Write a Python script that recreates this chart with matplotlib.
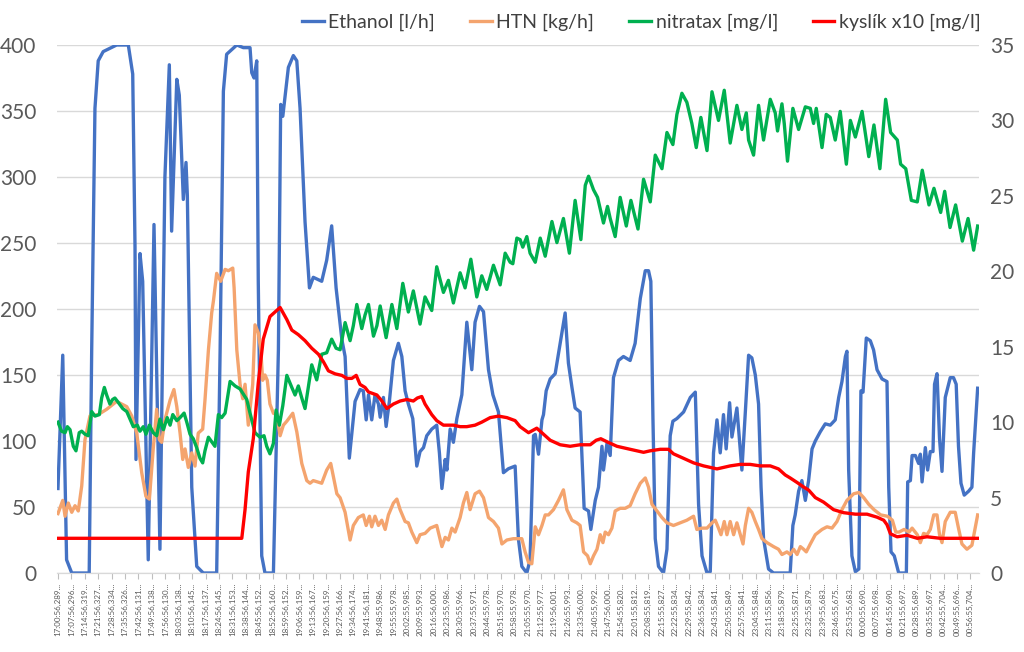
import matplotlib
matplotlib.use("Agg")
import matplotlib.pyplot as plt

plt.rcParams['font.family'] = ['Lato', 'DejaVu Sans']

# x = minuty od 17:00:56, popisky kazdych 7 minut
tick_labels = [
    "17:00:56,289", "17:07:56,296", "17:14:56,319", "17:21:56,327", "17:28:56,334",
    "17:35:56,326", "17:42:56,131", "17:49:56,138", "17:56:56,130", "18:03:56,138",
    "18:10:56,145", "18:17:56,137", "18:24:56,145", "18:31:56,153", "18:38:56,144",
    "18:45:56,152", "18:52:56,160", "18:59:56,152", "19:06:56,159", "19:13:56,167",
    "19:20:56,159", "19:27:56,166", "19:34:56,174", "19:41:56,181", "19:48:55,986",
    "19:55:55,978", "20:02:55,985", "20:09:55,993", "20:16:56,000", "20:23:55,986",
    "20:30:55,966", "20:37:55,971", "20:44:55,978", "20:51:55,970", "20:58:55,978",
    "21:05:55,970", "21:12:55,977", "21:19:56,001", "21:26:55,993", "21:33:56,000",
    "21:40:55,992", "21:47:56,000", "21:54:55,820", "22:01:55,812", "22:08:55,819",
    "22:15:55,827", "22:22:55,834", "22:29:55,842", "22:36:55,834", "22:43:55,841",
    "22:50:55,849", "22:57:55,841", "23:04:55,848", "23:11:55,856", "23:18:55,879",
    "23:25:55,871", "23:32:55,879", "23:39:55,683", "23:46:55,675", "23:53:55,683",
    "00:00:55,690", "00:07:55,698", "00:14:55,690", "00:21:55,697", "00:28:55,689",
    "00:35:55,697", "00:42:55,704", "00:49:55,696", "00:56:55,704",
]

# Ethanol [l/h]
eth_t = [0, 2.5, 4.5, 7.2, 16.3, 17.6, 19.3, 21.0, 23.6, 30.6, 36.7, 39.0, 40.2, 40.7, 42.8, 44.2,
         47.1, 50.1, 53.2, 55.8, 58.1, 59.3, 62.0, 63.3, 65.4, 66.8, 67.5, 69.8, 72.4, 75.8, 82.8,
         84.6, 86.3, 88.0, 93.3, 96.7, 100.2, 101.1, 102.3, 103.7, 104.5, 106.3, 108.0, 112.4,
         115.0, 116.2, 117.3, 120.2, 122.8, 124.6, 126.3, 128.9, 131.2, 133.2, 137.6, 140.2, 142.8,
         145.1, 148.1, 149.8, 152.0, 155.0, 157.6, 159.3, 160.8, 162.0, 163.7, 165.4, 167.2, 168.1,
         169.8, 171.2, 172.9, 175.0, 177.6, 179.4, 181.1, 182.8, 185.1, 187.2, 188.9, 190.7, 192.4,
         195.0, 197.6, 199.0, 200.3, 202.0, 202.9, 204.6, 206.3, 208.1, 210.7, 213.3, 215.9, 217.6,
         219.9, 222.0, 224.6, 226.9, 229.8, 232.4, 235.0, 238.5, 240.2, 242.0, 244.6, 246.3, 248.1,
         249.0, 250.7, 252.5, 253.3, 254.7, 256.8, 259.4, 262.0, 264.6, 266.3, 268.1, 269.8, 272.4,
         274.5, 276.8, 278.0, 280.3, 282.0, 283.8, 284.6, 286.4, 288.1, 289.8, 292.4, 295.0, 298.5,
         301.1, 303.8, 306.4, 308.1, 309.3, 310.4, 311.6, 313.3, 315.9, 317.7, 319.4, 320.8, 322.9,
         326.4, 329.9, 332.5, 334.2, 336.0, 338.6, 340.3, 342.0, 343.8, 345.5, 347.2, 348.6, 350.4,
         351.6, 354.2, 356.0, 356.8, 358.6, 360.3, 362.0, 363.8, 365.5, 366.8, 368.1, 370.7, 373.3,
         382.0, 383.4, 384.6, 386.4, 388.1, 389.9, 391.6, 393.4, 395.1, 397.7, 400.3, 402.9, 405.5,
         407.3, 409.0, 410.8, 411.6, 412.5, 414.2, 416.0, 417.8, 418.9, 420.0, 421.7, 423.8, 425.5,
         427.3, 429.9, 432.5, 433.4, 434.6, 436.3, 438.6, 442.6, 443.3, 444.7, 445.6, 447.3, 449.0,
         449.9, 450.8, 452.5, 453.7, 455.1, 456.5, 457.3, 458.6, 459.9, 461.2, 462.9, 465.5, 467.2,
         468.6, 469.8, 471.1, 472.8, 475.1, 476.8, 477.7, 479.8]
eth_v = [64, 165, 10, 0, 0, 169, 352, 388, 395, 400, 400, 378, 247, 86, 242, 221,
         10, 264, 18, 300, 385, 259, 374, 362, 283, 311, 286, 65, 5, 0, 0,
         169, 365, 393, 400, 398, 398, 379, 375, 388, 221, 13, 0, 0,
         169, 355, 346, 383, 392, 388, 352, 266, 216, 224, 221, 237, 263,
         216, 177, 164, 87, 130, 139, 138, 116, 135, 116, 135, 128, 118,
         133, 111, 130, 161, 174, 164, 138, 128, 117, 81, 92, 95, 104,
         109, 112, 91, 64, 86, 78, 109, 99, 117, 135, 190, 154, 190,
         202, 198, 154, 135, 122, 76, 79, 81, 26, 5, 0, 10, 104,
         105, 90, 116, 120, 138, 147, 151, 174, 197, 159, 141, 125, 122,
         49, 47, 33, 55, 65, 96, 78, 98, 89, 148, 161, 164, 161,
         174, 208, 229, 229, 221, 117, 26, 5, 0, 18, 104, 115, 117,
         122, 133, 137, 52, 13, 0, 1, 91, 116, 91, 120, 94, 129,
         103, 125, 92, 78, 122, 165, 163, 150, 128, 65, 26, 3, 0,
         0, 36, 44, 62, 70, 55, 70, 94, 100, 107, 113, 112, 116,
         133, 145, 164, 168, 78, 13, 1, 3, 138, 137, 178, 176, 169,
         154, 147, 145, 65, 16, 13, 0, 0, 69, 70, 89, 89, 83,
         90, 69, 95, 78, 92, 92, 143, 151, 102, 77, 133, 148, 148,
         143, 96, 68, 59, 62, 65, 91, 140]

# HTN [kg/h]
htn_t = [0, 2.5, 3.7, 5.4, 7.2, 8.9, 10.6, 12.4, 14.1, 16.7, 21.0, 25.4, 30.6, 35.9, 38.5, 41.1,
         43.7, 45.9, 47.7, 49.7, 51.5, 52.9, 54.1, 55.8, 58.5, 60.5, 62.0, 63.7, 65.1, 66.3, 68.0,
         69.8, 71.5, 73.2, 75.5, 76.7, 78.5, 80.2, 81.1, 82.8, 84.9, 87.2, 88.9, 91.2, 91.9, 93.3,
         95.0, 96.4, 97.6, 99.3, 101.6, 102.8, 104.5, 105.8, 106.8, 108.0, 109.2, 110.6, 112.4,
         114.1, 115.9, 117.6, 119.4, 122.5, 124.6, 127.2, 129.8, 131.5, 133.2, 137.6, 140.2, 142.3,
         143.7, 145.5, 147.2, 149.8, 152.4, 154.1, 156.7, 159.3, 160.8, 162.5, 163.7, 165.4, 167.2,
         168.9, 170.7, 172.4, 175.0, 176.8, 178.5, 181.1, 182.8, 184.6, 187.2, 188.9, 191.5, 194.2,
         197.6, 200.3, 202.0, 203.7, 205.5, 207.2, 209.8, 211.5, 213.3, 215.0, 217.6, 219.9, 222.0,
         224.6, 227.2, 229.8, 231.6, 234.2, 237.6, 240.2, 242.0, 243.7, 245.5, 247.2, 249.0, 250.7,
         252.5, 254.2, 255.9, 258.5, 261.1, 263.7, 265.5, 268.1, 270.7, 272.4, 274.2, 276.3, 277.7,
         279.4, 281.2, 282.9, 284.3, 285.5, 287.2, 289.0, 290.7, 293.3, 295.9, 298.5, 301.1, 303.8,
         306.4, 308.1, 309.9, 312.5, 315.1, 317.7, 321.1, 324.6, 328.1, 331.6, 333.3, 336.0, 338.6,
         341.2, 342.9, 344.6, 345.9, 347.6, 349.0, 350.7, 352.5, 354.2, 356.0, 357.4, 358.6, 360.3,
         362.0, 363.8, 365.5, 367.3, 369.9, 373.3, 375.9, 377.7, 380.3, 382.0, 383.8, 385.6, 387.3,
         389.0, 390.4, 392.5, 395.1, 398.6, 401.2, 403.8, 406.4, 409.0, 411.6, 415.1, 417.8, 420.4,
         423.0, 425.7, 429.2, 432.7, 435.3, 437.1, 438.8, 441.4, 444.0, 445.6, 448.3, 449.9, 451.6,
         453.4, 455.1, 456.9, 458.6, 459.9, 461.2, 462.9, 465.5, 468.1, 469.8, 471.6, 474.2, 476.8,
         478.5, 479.8]
htn_v = [45, 55, 43, 53, 46, 51, 47, 66, 101, 119, 120, 124, 130, 126, 119, 106,
         76, 58, 56, 94, 124, 101, 99, 116, 131, 139, 126, 106, 86, 94, 80,
         91, 81, 106, 109, 131, 169, 197, 206, 227, 221, 230, 229, 231, 216, 169,
         143, 132, 143, 112, 143, 188, 182, 169, 146, 150, 146, 128, 121,
         120, 104, 112, 115, 121, 107, 83, 70, 68, 70, 68, 78, 83,
         73, 60, 57, 46, 25, 36, 42, 44, 36, 43, 35, 43, 36,
         40, 33, 44, 53, 56, 48, 39, 38, 31, 23, 29, 30, 34,
         36, 20, 27, 25, 34, 31, 42, 53, 61, 48, 60, 62, 57,
         42, 39, 34, 22, 25, 26, 26, 26, 16, 8, 7, 35, 29,
         36, 44, 44, 48, 55, 63, 48, 40, 38, 36, 16, 13, 7,
         13, 18, 29, 23, 31, 29, 34, 47, 49, 49, 51, 60, 68,
         72, 65, 52, 47, 42, 38, 36, 38, 40, 43, 33, 34, 34,
         38, 40, 34, 29, 39, 29, 39, 29, 38, 29, 22, 36, 49,
         46, 39, 33, 26, 23, 20, 18, 14, 16, 14, 18, 14, 20,
         18, 16, 22, 29, 33, 35, 34, 39, 48, 55, 60, 61, 57,
         52, 48, 44, 43, 40, 31, 31, 33, 31, 34, 29, 23, 30,
         29, 33, 44, 44, 29, 23, 39, 46, 46, 34, 22, 18, 21,
         34, 44]

# nitratax [mg/l] (prava osa)
nit_t = [0, 1.9, 3.7, 4.9, 6.3, 8.0, 9.4, 11.1, 12.4, 14.1, 15.8, 17.6, 19.3, 21.6, 22.8, 24.2,
         25.4, 27.1, 28.5, 29.7, 31.5, 33.8, 35.9, 37.6, 39.3, 41.4, 42.8, 44.5, 45.9, 47.7, 49.7,
         51.5, 53.2, 55.0, 57.0, 58.5, 59.9, 62.0, 63.7, 65.8, 67.2, 68.9, 70.6, 72.4, 74.1, 75.5,
         76.7, 78.5, 80.2, 81.9, 83.7, 85.4, 87.2, 89.8, 92.4, 95.0, 98.5, 100.2, 102.8, 105.4,
         107.5, 108.9, 110.6, 112.4, 113.8, 115.5, 117.3, 119.4, 122.0, 123.7, 125.4, 127.2, 128.9,
         132.4, 135.0, 137.6, 140.2, 142.8, 145.1, 147.2, 149.8, 152.4, 154.1, 155.9, 158.5, 160.2,
         162.0, 164.6, 166.4, 168.1, 171.2, 174.2, 176.8, 179.9, 182.8, 185.4, 188.9, 191.5, 195.0,
         197.6, 201.1, 203.7, 206.3, 209.8, 212.4, 215.4, 218.5, 221.1, 223.7, 227.2, 230.7, 233.3,
         235.9, 237.3, 239.4, 241.1, 242.5, 244.6, 246.3, 249.0, 251.6, 254.2, 257.7, 260.3, 263.7,
         266.8, 269.8, 272.8, 275.1, 276.8, 279.4, 281.5, 284.6, 286.7, 288.1, 290.7, 293.3, 296.5,
         298.9, 302.6, 305.5, 309.0, 311.6, 315.1, 317.7, 320.8, 322.9, 325.5, 328.1, 330.7, 333.0,
         335.4, 338.6, 341.2, 344.6, 347.6, 350.7, 354.2, 356.8, 359.1, 360.3, 362.9, 365.5, 368.1,
         371.6, 374.2, 375.4, 377.7, 378.9, 380.6, 383.4, 386.4, 389.9, 392.5, 394.2, 395.6, 398.6,
         400.8, 402.9, 405.5, 408.1, 411.3, 413.4, 416.0, 419.5, 423.0, 425.7, 428.8, 431.8, 434.4,
         437.9, 439.6, 442.3, 445.2, 448.3, 450.9, 454.4, 457.0, 460.5, 462.6, 465.4, 468.3, 471.8,
         474.8, 477.7, 479.8]
nit_v = [10.0, 9.4, 9.3, 9.7, 9.5, 8.4, 8.1, 9.3, 9.4, 9.2, 9.1, 10.7, 10.4, 10.5, 11.6, 12.3,
         11.8, 11.2, 11.5, 11.6, 11.3, 10.9, 10.7, 10.2, 9.7, 9.8, 9.4, 9.7, 9.2, 9.8, 9.3,
         9.1, 10.2, 9.5, 10.3, 9.8, 10.5, 10.1, 10.3, 10.6, 10.0, 9.2, 8.9, 8.3, 7.6, 7.3,
         8.1, 9.0, 8.7, 8.4, 10.5, 10.3, 10.6, 12.7, 12.4, 12.2, 11.5, 10.6, 9.3, 9.0,
         9.1, 8.4, 7.9, 8.6, 10.8, 9.8, 11.1, 13.1, 12.3, 11.8, 12.4, 11.6, 10.9,
         13.8, 12.8, 14.5, 14.6, 15.5, 14.9, 14.8, 16.6, 15.4, 16.4, 17.8, 16.2, 17.1,
         17.8, 15.7, 16.4, 17.7, 15.6, 17.8, 16.2, 19.2, 17.3, 18.7, 16.5, 18.3, 17.4,
         20.3, 18.6, 19.4, 17.9, 19.9, 18.9, 20.8, 18.3, 19.7, 18.8, 20.4, 19.1, 21.2,
         20.6, 20.5, 22.2, 22.1, 21.6, 22.3, 21.2, 20.6, 22.2, 21.0, 23.3, 21.9, 23.5,
         21.2, 24.7, 22.1, 25.7, 26.3, 25.4, 24.9, 23.2, 24.3, 23.5, 22.3, 24.9, 23.0,
         24.7, 22.8, 26.1, 24.6, 27.7, 26.8, 29.2, 28.4, 30.4, 31.8, 31.2, 29.8, 28.2,
         30.2, 28.0, 31.9, 30.0, 32.0, 28.5, 31.0, 29.4, 30.5, 28.7, 27.7, 31.0, 28.7,
         31.4, 30.5, 29.3, 31.1, 29.8, 27.3, 30.8, 29.4, 30.9, 30.8, 29.8, 30.8, 28.2,
         30.4, 30.2, 28.7, 30.6, 27.1, 30.0, 28.9, 30.6, 27.6, 29.7, 26.8, 31.4, 29.2,
         28.7, 27.1, 26.8, 24.7, 24.6, 26.7, 24.4, 25.5, 23.9, 25.3, 22.9, 24.4, 22.0,
         23.5, 21.4, 23.0]

# kyslik x10 [mg/l] (prava osa)
o2_t = [0, 95.9, 97.6, 99.3, 101.9, 104.5, 107.1, 110.6, 114.1, 115.9, 119.4, 122.0, 125.4, 128.9,
        132.4, 135.9, 138.5, 141.1, 144.6, 148.1, 150.7, 153.3, 155.6, 157.6, 160.2, 162.0, 166.4,
        169.0, 171.6, 175.0, 178.5, 182.0, 185.4, 187.5, 189.8, 191.5, 195.0, 197.6, 201.1, 206.3,
        209.8, 213.3, 217.6, 221.1, 225.5, 229.8, 234.2, 238.5, 241.1, 245.5, 249.8, 253.3, 256.8,
        262.0, 267.2, 272.4, 277.7, 280.8, 283.2, 286.4, 291.6, 298.5, 305.5, 309.0, 314.2, 318.5,
        321.1, 326.4, 331.6, 336.8, 343.8, 350.7, 356.0, 361.1, 366.3, 371.6, 375.9, 379.4, 382.0,
        385.6, 389.0, 391.6, 395.1, 399.4, 404.6, 409.8, 416.0, 422.1, 427.3, 430.8, 432.5, 434.3,
        437.8, 443.0, 448.3, 453.4, 460.3, 469.0, 479.8]
o2_v = [2.3, 2.3, 4.2, 6.7, 8.9, 12.6, 15.5, 17.0, 17.4, 17.6, 16.8, 16.1, 15.8, 15.4,
        14.9, 14.5, 14.0, 13.4, 13.2, 13.1, 12.9, 12.9, 13.1, 12.5, 12.3, 12.0, 11.8,
        11.4, 10.9, 11.2, 11.4, 11.5, 11.4, 11.6, 11.7, 11.2, 10.5, 10.1, 9.8, 9.8,
        9.7, 9.7, 9.8, 10.0, 10.3, 10.4, 10.3, 10.1, 9.7, 9.3, 9.6, 9.2, 8.8,
        8.5, 8.4, 8.5, 8.5, 8.8, 8.9, 8.7, 8.4, 8.2, 8.0, 8.1, 8.2, 8.2,
        7.9, 7.6, 7.3, 7.1, 6.9, 7.1, 7.2, 7.2, 7.1, 7.1, 6.9, 6.5, 6.3,
        6.0, 5.7, 5.5, 5.0, 4.7, 4.2, 4.0, 3.9, 3.9, 3.7, 3.5, 3.2, 2.6,
        2.4, 2.5, 2.3, 2.4, 2.3, 2.3, 2.3]

fig = plt.figure(figsize=(10.24, 6.52), dpi=100)
ax = fig.add_axes([57 / 1024, 1 - 573 / 652, 922 / 1024, 528 / 652])
ax2 = ax.twinx()

lw = 2.4
l1, = ax.plot(eth_t, eth_v, color='#4472C4', lw=lw, label='Ethanol [l/h]')
l2, = ax.plot(htn_t, htn_v, color='#F4A46E', lw=lw, label='HTN [kg/h]')
l3, = ax2.plot(nit_t, nit_v, color='#00B050', lw=lw, label='nitratax [mg/l]')
l4, = ax2.plot(o2_t, o2_v, color='#FF0000', lw=lw, label='kyslík x10 [mg/l]')

ax.set_xlim(-0.5, 480.5)
ax.set_ylim(0, 400)
ax2.set_ylim(0, 35)
ax.set_yticks(range(0, 401, 50))
ax2.set_yticks(range(0, 36, 5))
ax.grid(axis='y', color='#d9d9d9', lw=1)
ax.set_axisbelow(True)

ax.set_xticks(range(0, 477, 7))
ax.set_xticklabels([s + '...' for s in tick_labels], rotation=90, fontsize=5.8,
                   color='#595959')
ax.tick_params(axis='x', length=4, color='#bfbfbf', pad=3)
ax.tick_params(axis='y', length=0, labelsize=15, labelcolor='#595959', pad=15)
ax2.tick_params(axis='y', length=0, labelsize=15, labelcolor='#595959', pad=8)

for a in (ax, ax2):
    for s in ('top', 'left', 'right'):
        a.spines[s].set_visible(False)
    a.spines['bottom'].set_color('#d9d9d9')

fig.legend(handles=[l1, l2, l3, l4], loc='center right', bbox_to_anchor=(0.958, 0.965),
           ncol=4, frameon=False, fontsize=14, handlelength=1.1, handletextpad=0.25,
           columnspacing=1.8, labelcolor='#404040', borderaxespad=0, borderpad=0)

fig.savefig('out.png', dpi=100)
